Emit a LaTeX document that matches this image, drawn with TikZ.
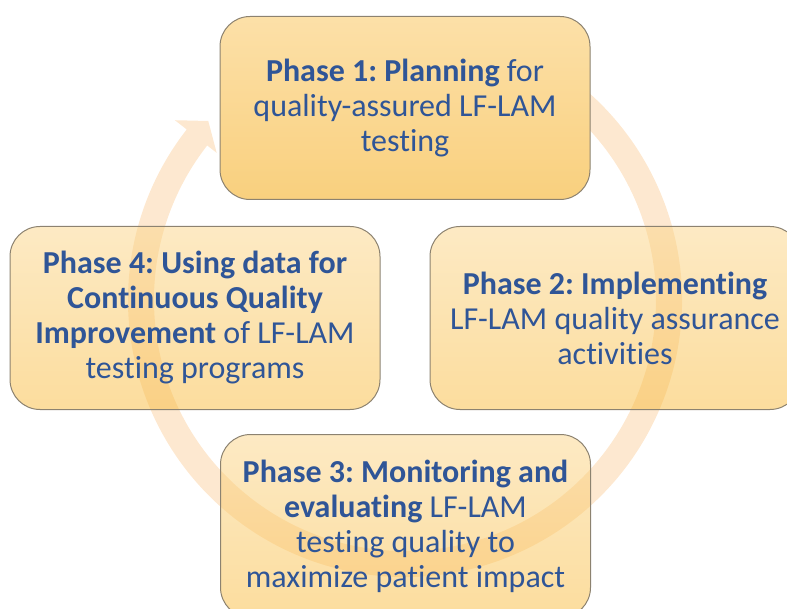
\documentclass[tikz,border=0pt]{standalone}
\usepackage{fontspec}
\setmainfont{Carlito}[Ligatures=NoCommon]
\frenchspacing
\definecolor{phasetext}{RGB}{47,85,151}
\definecolor{boxline}{RGB}{140,130,112}
\definecolor{bandpeach}{RGB}{253,232,208}
\definecolor{goldtop}{RGB}{252,224,168}
\definecolor{goldbottom}{RGB}{249,208,126}
\definecolor{glasstop}{RGB}{251,213,137}
\definecolor{glassbottom}{RGB}{249,187,60}
\begin{document}
\begin{tikzpicture}[x=1pt,y=-1pt,
  phasebox/.style={draw=boxline, line width=1pt, rounded corners=30pt,
    minimum height=183pt, minimum width=370pt, align=center, text=phasetext,
    inner sep=0pt, font=\fontsize{32}{35}\selectfont},
  solidbox/.style={phasebox, top color=goldtop, bottom color=goldbottom},
  glassbox/.style={phasebox, top color=glasstop, bottom color=glassbottom,
    fill opacity=0.5, draw opacity=1, text opacity=1}]
\useasboundingbox (0,0) rectangle (787,609);

% circular arrow running clockwise behind the four phases
\begin{scope}[shift={(405,300)}]
  \fill[bandpeach] (-70:277) arc[start angle=-70, end angle=218, radius=277]
    -- (218:292) -- (222.3:266) -- (218:239) -- (218:251)
    arc[start angle=218, end angle=-70, radius=251] -- cycle;
\end{scope}

% phase boxes
\node[glassbox] (p4) at (195,318)
  {\textbf{Phase 4: Using data for}\\ \textbf{Continuous Quality}\\
   \textbf{Improvement} of LF-LAM\\ testing programs};
\node[glassbox] (p2) at (615,318)
  {\textbf{Phase 2: Implementing}\\ LF-LAM quality assurance\\ activities};
\node[glassbox] (p3) at (405.5,526)
  {\textbf{Phase 3: Monitoring and}\\ \textbf{evaluating} LF-LAM\\
   testing quality to\\ maximize patient impact};
\node[solidbox] (p1) at (405,108)
  {\textbf{Phase 1: Planning} for\\ quality-assured LF-LAM\\ testing};
\end{tikzpicture}
\end{document}
